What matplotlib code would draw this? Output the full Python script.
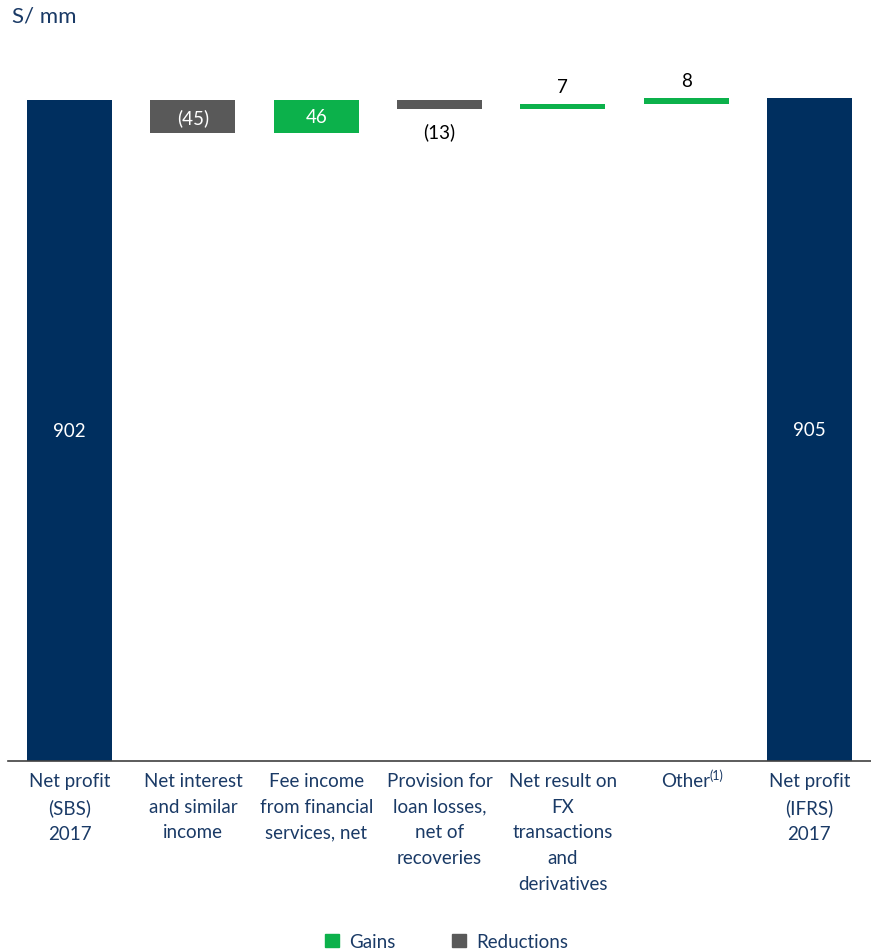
#Import libraries
import matplotlib
matplotlib.use('Agg')
import matplotlib.pyplot as plt
from matplotlib.patches import Patch
import matplotlib.transforms as mtransforms
import numpy as np

#--------------------------Data------------------------------------------#
categories = ['Net profit\n(SBS)\n2017',
              'Net interest\nand similar\nincome',
              'Fee income\nfrom financial\nservices, net',
              'Provision for\nloan losses,\nnet of\nrecoveries',
              'Net result on\nFX\ntransactions\nand\nderivatives',
              'Other',
              'Net profit\n(IFRS)\n2017']
start_value = 902
changes = [-45, 46, -13, 7, 8]
end_value = 905
value_labels = ['902', '(45)', '46', '(13)', '7', '8', '905']

#--------------------------Style-----------------------------------------#
plt.rcParams['font.family'] = ['Lato', 'DejaVu Sans']
navy = '#002F5F'
grey = '#595959'
green = '#0CB14B'
text_navy = '#1A3A66'

#--------------------------Waterfall geometry----------------------------#
bottoms = [0]
heights = [start_value]
colors = [navy]
level = start_value
for c in changes:
    if c >= 0:
        bottoms.append(level)
        heights.append(c)
        colors.append(green)
    else:
        bottoms.append(level + c)
        heights.append(-c)
        colors.append(grey)
    level += c
bottoms.append(0)
heights.append(end_value)
colors.append(navy)

x = np.arange(len(categories))

fig = plt.figure(figsize=(8.71, 9.53), dpi=100)
ax = fig.add_axes([0.0092, 0.2004, 0.9908, 0.7471])
ax.bar(x, heights, bottom=bottoms, width=0.69, color=colors)
ax.set_xlim(-0.5, 6.5)
ax.set_ylim(0, 972)

# value labels
for i in range(len(x)):
    b, h = bottoms[i], heights[i]
    if i in (0, len(x) - 1) or h >= 30:
        ax.text(x[i], b + h / 2, value_labels[i], ha='center', va='center',
                color='white', fontsize=13.5)
    elif changes[i - 1] < 0:
        ax.text(x[i], b - 18, value_labels[i], ha='center', va='top',
                color='black', fontsize=13.5)
    else:
        ax.text(x[i], b + h + 12, value_labels[i], ha='center', va='bottom',
                color='black', fontsize=13.5)

# axes cosmetics
for s in ['top', 'right', 'left']:
    ax.spines[s].set_visible(False)
ax.spines['bottom'].set_color('#404040')
ax.spines['bottom'].set_linewidth(1.2)
ax.set_yticks([])
ax.set_xticks(x)
ax.set_xticklabels(categories, fontsize=13.5, color=text_navy, linespacing=1.62)
ax.tick_params(axis='x', length=0, pad=8)

# footnote marker on "Other"
trans = mtransforms.blended_transform_factory(ax.transData, fig.transFigure)
ax.text(5.19, 1 - 776 / 953, '(1)', transform=trans, fontsize=9,
        color=text_navy, ha='left', va='center')

fig.text(0.014, 0.993, 'S/ mm', fontsize=16, color=text_navy, ha='left', va='top')

handles = [Patch(color=green, label='Gains'), Patch(color=grey, label='Reductions')]
leg = fig.legend(handles=handles, loc='center', bbox_to_anchor=(0.513, 0.011),
                 ncol=2, frameon=False, fontsize=13.5, handlelength=0.75,
                 handleheight=0.75, columnspacing=3.0, handletextpad=0.55)
for t in leg.get_texts():
    t.set_color(text_navy)

fig.savefig('out.png', dpi=100)
